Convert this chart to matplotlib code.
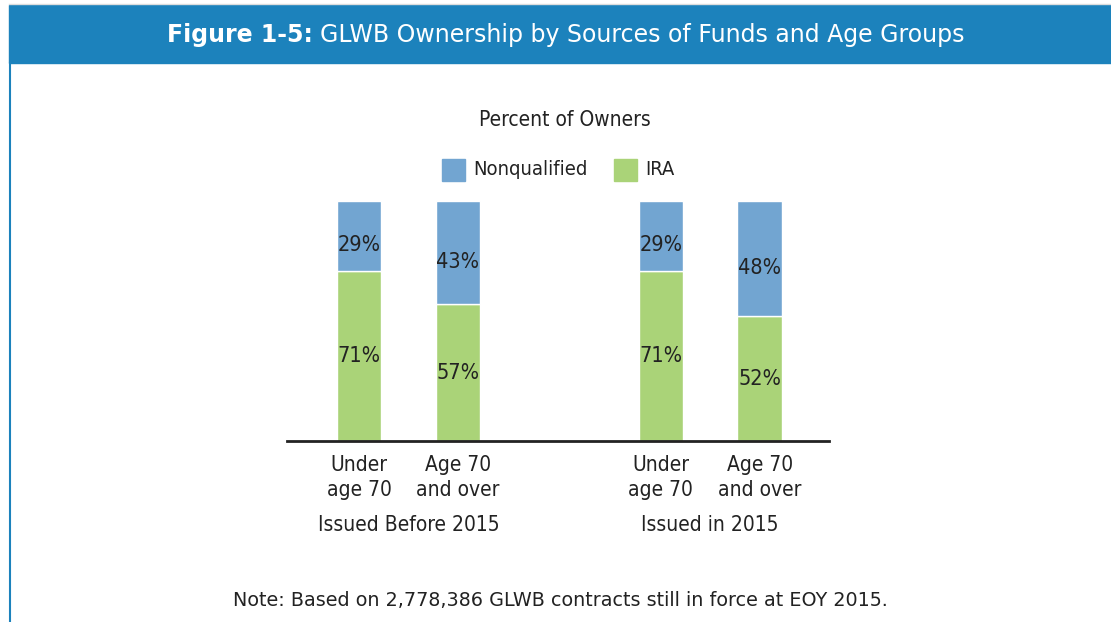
import numpy as np
import matplotlib.pyplot as plt
from matplotlib.patches import Rectangle

plt.rcParams['font.family'] = ['DejaVu Sans']
plt.rcParams['font.stretch'] = 'condensed'

# data
bar_labels = ['Under\nage 70', 'Age 70\nand over', 'Under\nage 70', 'Age 70\nand over']
group_labels = ['Issued Before 2015', 'Issued in 2015']
nonqualified = [29, 43, 29, 48]
ira = [71, 57, 71, 52]

blue = '#72a5d1'
green = '#aad378'
header = '#1c82bc'
ink = '#222222'

fig = plt.figure(figsize=(11.11, 6.22), dpi=100)
W, H = 1111, 622

# header bar and frame
fig.patches.append(Rectangle((9 / W, 1 - 63 / H), 1 - 9 / W, 58 / H,
                             transform=fig.transFigure, color=header, zorder=0))
fig.add_artist(plt.Line2D([9.5 / W, 9.5 / W], [0, 1 - 63 / H], color=header, lw=1.5,
                          transform=fig.transFigure))
fig.add_artist(plt.Line2D([9 / W, 1], [1 - 4 / H, 1 - 4 / H], color='#dddddd', lw=1,
                          transform=fig.transFigure))
t1 = fig.text(167 / W, 1 - 35 / H, 'Figure 1-5:', color='white', fontsize=17,
              fontweight='bold', va='center', ha='left', stretch='normal')
fig.canvas.draw()
bb = t1.get_window_extent()
fig.text(bb.x1 / W + 7 / W, 1 - 35 / H, 'GLWB Ownership by Sources of Funds and Age Groups',
         color='white', fontsize=17, va='center', ha='left', stretch='normal')

# chart axes
ax = fig.add_axes([287 / W, 1 - 441 / H, (829 - 287) / W, 240 / H])
x = np.array([0, 1, 3.05, 4.05])
w = 0.45
ax.bar(x, ira, width=w, color=green, edgecolor='white', linewidth=1)
ax.bar(x, nonqualified, width=w, bottom=ira, color=blue, edgecolor='white', linewidth=1)
for xi, n, r in zip(x, nonqualified, ira):
    ax.text(xi, r / 2, f'{r}%', ha='center', va='center', fontsize=15.5, color=ink)
    ax.text(xi, r + n / 2 - 4, f'{n}%', ha='center', va='center', fontsize=15.5, color=ink)
ax.set_xlim(-0.727, 4.75)
ax.set_ylim(0, 100)
for s in ['top', 'right', 'left']:
    ax.spines[s].set_visible(False)
ax.spines['bottom'].set_linewidth(2)
ax.spines['bottom'].set_color(ink)
ax.set_yticks([])
ax.set_xticks(x)
ax.set_xticklabels(bar_labels, fontsize=15, color=ink, linespacing=1.35)
ax.tick_params(axis='x', length=0, pad=10)
for gx, gl in zip([(x[0] + x[1]) / 2, (x[2] + x[3]) / 2], group_labels):
    ax.text(gx, -35, gl, ha='center', va='center', fontsize=15, color=ink)

# title and legend
fig.text(565 / W, 1 - 120 / H, 'Percent of Owners', ha='center', va='center',
         fontsize=15, color=ink)
fig.patches.append(Rectangle((442 / W, 1 - 181 / H), 23 / W, 22 / H,
                             transform=fig.transFigure, color=blue))
fig.text(473 / W, 1 - 170 / H, 'Nonqualified', ha='left', va='center', fontsize=14.5, color=ink)
fig.patches.append(Rectangle((614 / W, 1 - 181 / H), 23 / W, 22 / H,
                             transform=fig.transFigure, color=green))
fig.text(645 / W, 1 - 170 / H, 'IRA', ha='left', va='center', fontsize=14.5, color=ink)

fig.text(560 / W, 1 - 600 / H, 'Note: Based on 2,778,386 GLWB contracts still in force at EOY 2015.',
         ha='center', va='center', fontsize=13.8, color=ink, stretch='normal')

fig.savefig('out.png', dpi=100)
